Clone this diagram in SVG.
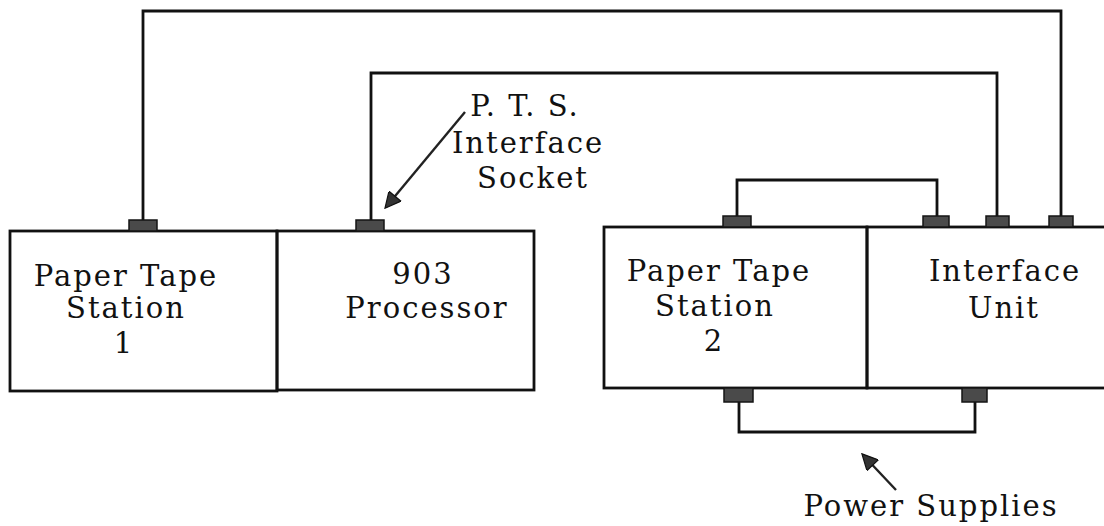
<svg xmlns="http://www.w3.org/2000/svg" width="1104" height="526" viewBox="0 0 1104 526">
<defs>
<style>
.box{fill:none;stroke:#111;stroke-width:2.8}
.wire{fill:none;stroke:#111;stroke-width:2.8;stroke-linejoin:miter}
.sock{fill:#4a4a4a;stroke:#151515;stroke-width:1.5}
.lbl{font-family:"DejaVu Serif","Liberation Serif",serif;font-size:29px;fill:#111;text-anchor:middle;letter-spacing:2px}
.ptr{fill:none;stroke:#222;stroke-width:2.4}
</style>
<marker id="ah" viewBox="0 0 10 10" refX="9" refY="5" markerWidth="7.5" markerHeight="6.5" orient="auto" markerUnits="strokeWidth">
<path d="M0,0 L10,5 L0,10 Z" fill="#333" stroke="#111" stroke-width="0.8"/>
</marker>
</defs>
<rect width="1104" height="526" fill="#fff"/>

<g id="connectors">
<polyline class="wire" points="143,222 143,11 1061,11 1061,216"/>
<polyline class="wire" points="371,222 371,73 997,73 997,216"/>
<polyline class="wire" points="737,218 737,180 937,180 937,218"/>
<polyline class="wire" points="739,400 739,432 975,432 975,400"/>
</g>

<g id="pts1">
<rect class="box" x="10" y="231" width="267" height="160"/>
<rect class="sock" x="129" y="220" width="28" height="11"/>
<text class="lbl" x="126" y="286">Paper Tape</text>
<text class="lbl" x="126" y="318">Station</text>
<text class="lbl" x="124" y="353">1</text>
</g>

<g id="processor">
<rect class="box" x="277" y="231" width="257" height="159"/>
<rect class="sock" x="356" y="220" width="28" height="11"/>
<text class="lbl" x="423" y="284">903</text>
<text class="lbl" x="427" y="318">Processor</text>
</g>

<g id="pts2">
<rect class="box" x="604" y="227" width="263" height="161"/>
<rect class="sock" x="723" y="216" width="28" height="11"/>
<rect class="sock" x="724" y="388" width="29" height="14"/>
<text class="lbl" x="719" y="281">Paper Tape</text>
<text class="lbl" x="715" y="316">Station</text>
<text class="lbl" x="714" y="351">2</text>
</g>

<g id="interface">
<rect class="box" x="867" y="227" width="250" height="161"/>
<rect class="sock" x="923" y="216" width="26" height="11"/>
<rect class="sock" x="986" y="216" width="23" height="11"/>
<rect class="sock" x="1049" y="216" width="24" height="11"/>
<rect class="sock" x="962" y="388" width="25" height="14"/>
<text class="lbl" x="1005" y="281">Interface</text>
<text class="lbl" x="1004" y="318">Unit</text>
</g>

<g id="pts-socket-label">
<line class="ptr" x1="465" y1="112" x2="386" y2="207" marker-end="url(#ah)"/>
<text class="lbl" x="525" y="116">P. T. S.</text>
<text class="lbl" x="528" y="153">Interface</text>
<text class="lbl" x="533" y="188">Socket</text>
</g>

<g id="power-label">
<line class="ptr" x1="896" y1="490" x2="863" y2="455" marker-end="url(#ah)"/>
<text class="lbl" x="931" y="516">Power Supplies</text>
</g>
</svg>
